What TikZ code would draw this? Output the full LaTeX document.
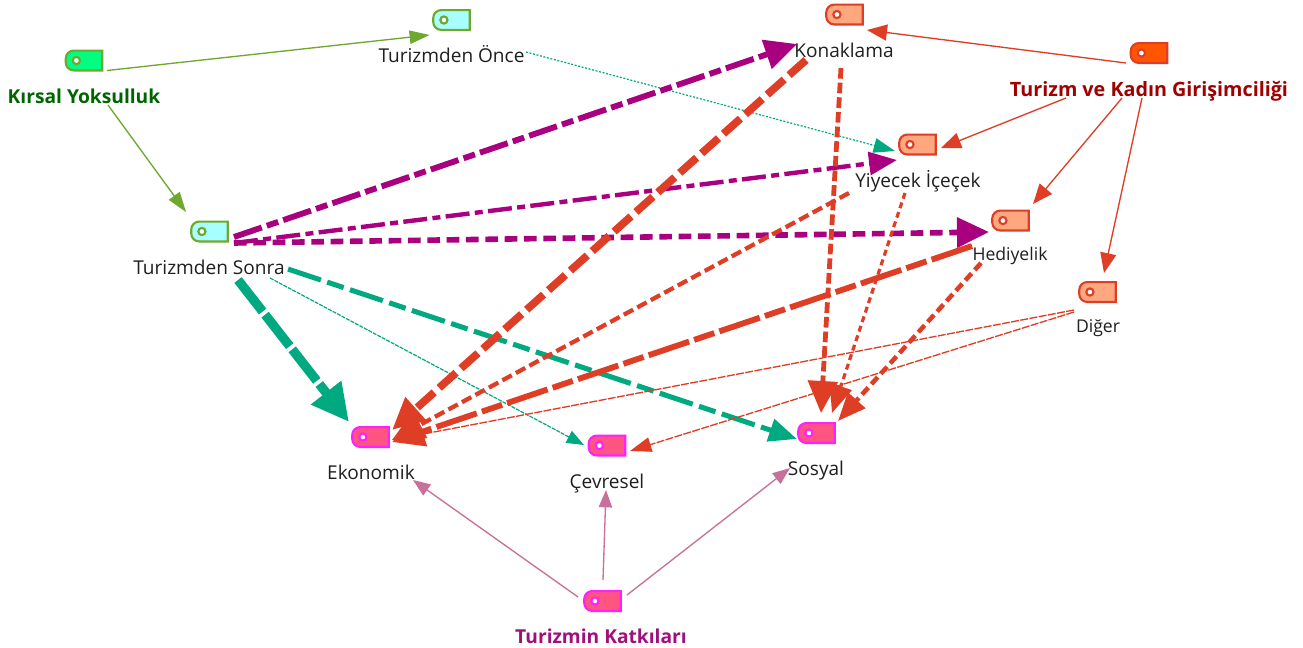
\documentclass[tikz,border=0pt]{standalone}
\usepackage{fontspec}
\setmainfont{Open Sans}
\usetikzlibrary{arrows.meta}
\definecolor{cgreen}{HTML}{6FA82E}
\definecolor{cteal}{HTML}{00A97F}
\definecolor{cpurple}{HTML}{A8007F}
\definecolor{cred}{HTML}{DF3E26}
\definecolor{cpink}{HTML}{C9709A}
\definecolor{cmag}{HTML}{FF1FFF}
\definecolor{fgreen}{HTML}{00FF80}
\definecolor{fcyan}{HTML}{A8FFFF}
\definecolor{fsalmon}{HTML}{FFA880}
\definecolor{forange}{HTML}{FF5500}
\definecolor{frose}{HTML}{FF5580}
\definecolor{tgreen}{HTML}{006400}
\definecolor{tred}{HTML}{A00000}
\definecolor{tpurple}{HTML}{A0107A}
\tikzset{
  tagbox/.style={inner sep=0pt,minimum width=27pt,minimum height=14.5pt},
  lab/.style={inner sep=0pt,text height=12pt,text depth=1pt,text=black!88,font=\fontsize{14.3}{16}\selectfont},
  labsmall/.style={inner sep=0pt,text height=12pt,text depth=1pt,text=black!88,font=\fontsize{13.2}{15}\selectfont},
  labbold/.style={inner sep=0pt,text height=12pt,text depth=1pt,font=\fontsize{14.4}{16}\selectfont\bfseries},
  thingreen/.style={draw=cgreen,line width=1pt,-{Triangle[length=15pt,width=10pt]}},
  thinred/.style={draw=cred,line width=1pt,-{Triangle[length=15pt,width=12pt]}},
  thinpink/.style={draw=cpink,line width=1pt,-{Triangle[length=13pt,width=10pt]}},
  bigtip/.style={-{Triangle[length=24pt,width=22pt]}},
  midtip/.style={-{Triangle[length=21pt,width=17pt]}},
  purpA/.style={draw=cpurple,line width=4.4pt,bigtip,dash pattern=on 22pt off 4pt on 9pt off 4pt},
  purpB/.style={draw=cpurple,line width=3.3pt,midtip,dash pattern=on 18pt off 4pt on 6pt off 4pt},
  purpC/.style={draw=cpurple,line width=4.2pt,bigtip,dash pattern=on 9.5pt off 5pt},
  tealA/.style={draw=cteal,line width=7pt,-{Triangle[length=28pt,width=27pt]},dash pattern=on 30pt off 3pt},
  tealB/.style={draw=cteal,line width=3.8pt,midtip,dash pattern=on 26pt off 5pt on 13pt off 5pt},
  tealC/.style={draw=cteal,line width=.9pt,-{Triangle[length=13pt,width=10pt]},dash pattern=on 3pt off .8pt},
  tealD/.style={draw=cteal,line width=.9pt,-{Triangle[length=16pt,width=11pt]},dash pattern=on 1.5pt off 1.2pt},
  redA/.style={draw=cred,line width=5.8pt,bigtip,dash pattern=on 17pt off 5pt},
  redB/.style={draw=cred,line width=3.6pt,bigtip,dash pattern=on 8pt off 3pt},
  redC/.style={draw=cred,line width=3.2pt,bigtip,dash pattern=on 8pt off 3.5pt},
  redD/.style={draw=cred,line width=2.4pt,midtip,dash pattern=on 4.5pt off 3pt},
  redE/.style={draw=cred,line width=4.4pt,bigtip,dash pattern=on 32pt off 4pt on 16pt off 4pt},
  redF/.style={draw=cred,line width=3.4pt,midtip,dash pattern=on 7pt off 3.5pt},
  redG/.style={draw=cred,line width=1pt,-{Triangle[length=16pt,width=11pt]},dash pattern=on 6pt off 1pt}
}
\newcommand{\tagmarkx}[4]{%
  \node[tagbox] (#1) at (#2) {};
  \draw[line width=1.6pt,draw=#4,fill=#3] (#1.north east) [rounded corners=6pt] -- (#1.north west) -- (#1.south west) [sharp corners] -- (#1.south east) -- cycle;
  \draw[line width=1.6pt,draw=#4,fill=white] ([xshift=8pt]#1.west) circle[radius=2.7pt];
}
\newcommand{\link}[5]{\draw[#1] ([shift={(#2)}]#3.center) -- ([shift={(#5)}]#4.center);}
\begin{document}
\begin{tikzpicture}[x=0.75pt,y=-0.75pt]
\useasboundingbox[fill=white] (0,0) rectangle (1303,647);
% tags
\tagmarkx{ky}{84,60.5}{fgreen}{cgreen}
\tagmarkx{once}{451.5,20}{fcyan}{cgreen}
\tagmarkx{sonra}{209.5,231.5}{fcyan}{cgreen}
\tagmarkx{kon}{844.5,14.5}{fsalmon}{cred}
\tagmarkx{tkg}{1149,53}{forange}{cred}
\tagmarkx{yiy}{917.5,144.5}{fsalmon}{cred}
\tagmarkx{hed}{1010.5,220.5}{fsalmon}{cred}
\tagmarkx{dig}{1097.5,292}{fsalmon}{cred}
\tagmarkx{eko}{370.5,437}{frose}{cmag}
\tagmarkx{cev}{607,445.5}{frose}{cmag}
\tagmarkx{sos}{816.5,433}{frose}{cmag}
\tagmarkx{kat}{602.5,601}{frose}{cmag}
% labels
\node[labbold,text=tgreen] (lky) at (84,96) {Kırsal Yoksulluk};
\node[lab] (lonce) at (451.5,55) {Turizmden Önce};
\node[lab] (lsonra) at (209,267) {Turizmden Sonra};
\node[lab] (lkon) at (844,50) {Konaklama};
\node[labbold,text=tred,font=\fontsize{14.8}{16}\selectfont\bfseries] (ltkg) at (1149,89) {Turizm ve Kadın Girişimciliği};
\node[lab] (lyiy) at (918,180) {Yiyecek İçeçek};
\node[labsmall] (lhed) at (1010,253) {Hediyelik};
\node[labsmall] (ldig) at (1098,325) {Diğer};
\node[lab] (leko) at (371,472) {Ekonomik};
\node[lab] (lcev) at (607,481) {Çevresel};
\node[lab] (lsos) at (816,468) {Sosyal};
\node[labbold,text=tpurple] (lkat) at (601,636) {Turizmin Katkıları};
% connectors
\link{thingreen}{23,10}{ky}{once}{-21.9,15}
\link{thingreen}{24,9}{lky}{sonra}{-23.5,-19.5}
\link{tealD}{74.5,-3}{lonce}{yiy}{-22.5,6.5}
\link{purpA}{24.5,5.5}{sonra}{kon}{-47.5,29.5}
\link{purpB}{24.5,11.5}{sonra}{yiy}{-20.5,15.5}
\link{purpC}{24.5,11.5}{sonra}{hed}{-21.5,11.5}
\link{tealA}{29,13}{lsonra}{eko}{-21.5,-15}
\link{tealB}{79,2}{lsonra}{sos}{-19.5,6}
\link{tealC}{61,11}{lsonra}{cev}{-23,-0.5}
\link{redA}{-38,10}{lkon}{eko}{21.5,-7}
\link{redB}{-3,18}{lkon}{sos}{4.5,-20}
\link{redC}{-69,13}{lyiy}{eko}{21.5,3}
\link{redD}{-13,13}{lyiy}{sos}{15.5,-20}
\link{redE}{-38,-7}{lhed}{eko}{21.5,5}
\link{redF}{-29,10}{lhed}{sos}{21.5,-12}
\link{redG}{-24,-15}{ldig}{eko}{21.5,3}
\link{redG}{-24,-13}{ldig}{cev}{23,5.5}
\link{thinred}{-23,10}{tkg}{kon}{22.5,15.5}
\link{thinred}{-83,9}{ltkg}{yiy}{23.5,3.5}
\link{thinred}{-27,9}{ltkg}{hed}{22.5,-16.5}
\link{thinred}{-7,9}{ltkg}{dig}{6.5,-19}
\link{thinpink}{-24.5,-4}{kat}{leko}{42,8}
\link{thinpink}{0.5,-21}{kat}{lcev}{-1,9}
\link{thinpink}{24.5,-6}{kat}{lsos}{-26,0}
\end{tikzpicture}
\end{document}
